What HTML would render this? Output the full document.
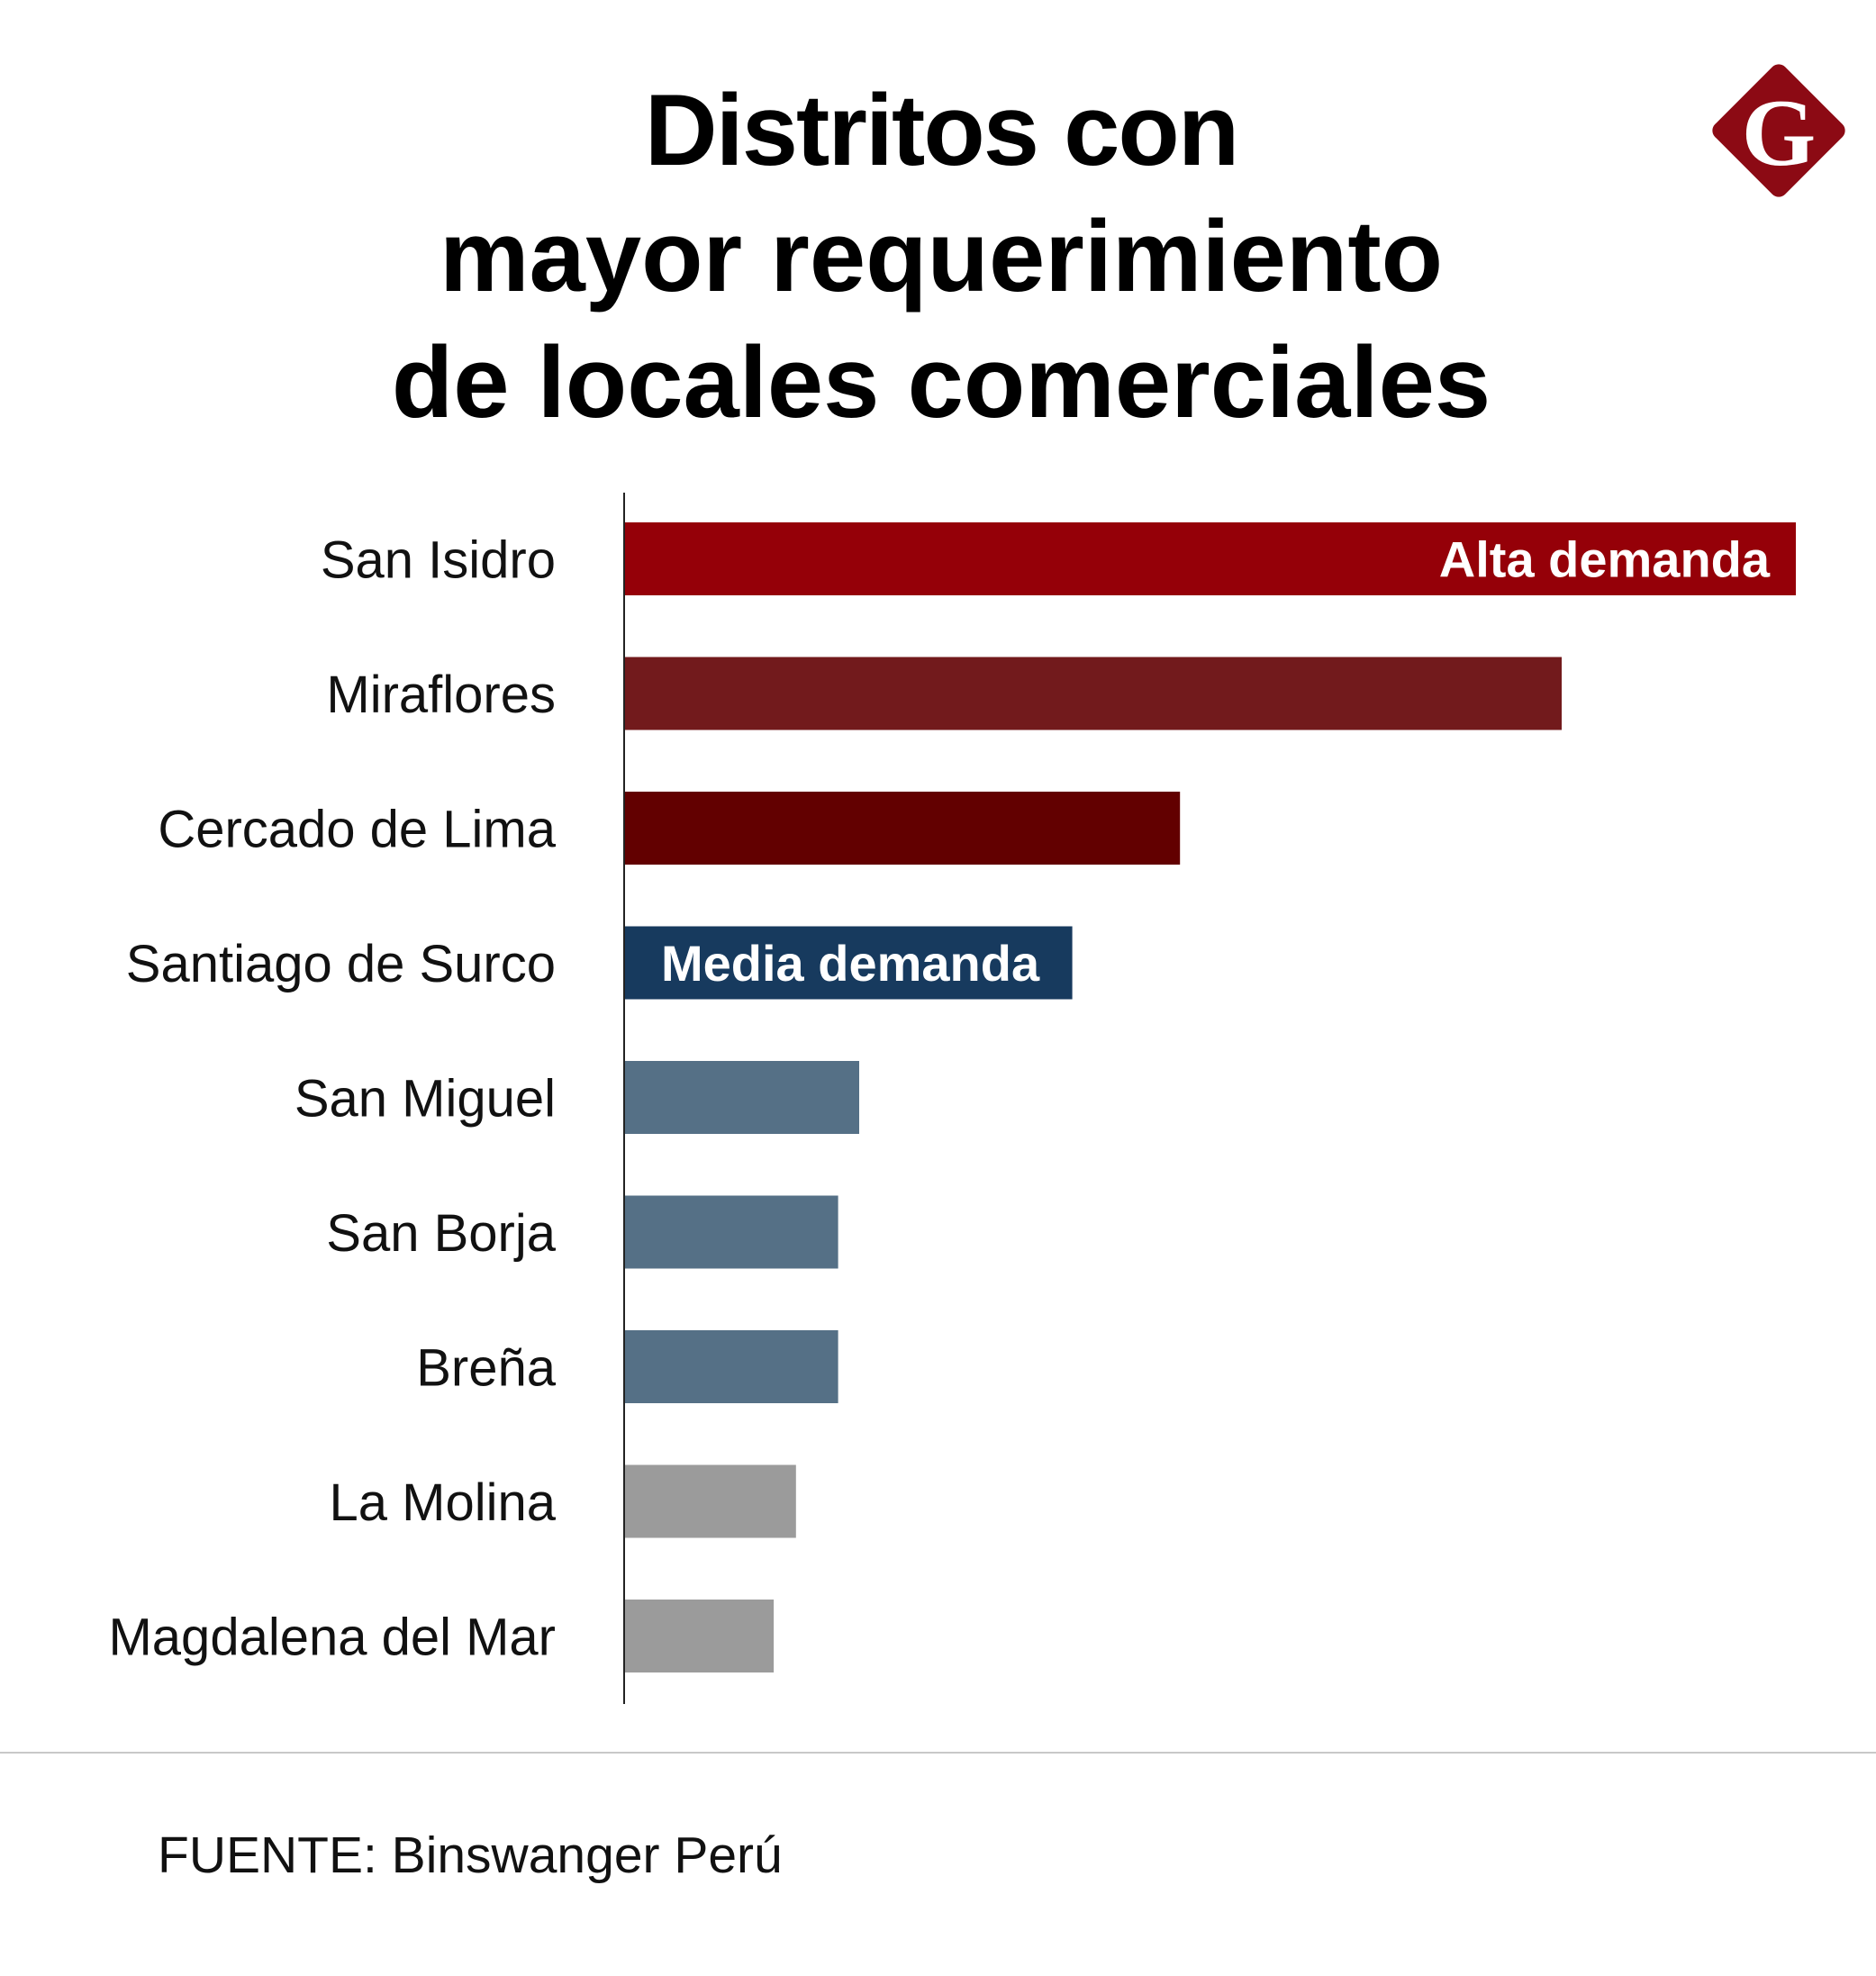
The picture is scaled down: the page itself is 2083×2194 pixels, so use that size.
<!DOCTYPE html>
<html><head><meta charset="utf-8"><style>
body{margin:0;width:2083px;height:2194px;background:#fff;overflow:hidden;font-family:"Liberation Sans",sans-serif;}
.t{position:absolute;left:0;width:2090px;text-align:center;font-weight:bold;font-size:112px;letter-spacing:-1px;color:#000;}
</style></head><body>
<div class="t" style="top:80px;letter-spacing:-2px">Distritos con</div>
<div class="t" style="top:220px;letter-spacing:0px">mayor requerimiento</div>
<div class="t" style="top:360px;letter-spacing:0px">de locales comerciales</div>
<svg style="position:absolute;left:0;top:0" width="2083" height="300">
<rect x="1920" y="90" width="110" height="110" rx="10" fill="#8c0a14" transform="rotate(45 1975 145)"/>
<text x="1975" y="183" text-anchor="middle" font-family="Liberation Serif,serif" font-weight="bold" font-size="106" fill="#fff">G</text>
</svg>
<svg id="chart" style="position:absolute;left:0;top:0" width="2083" height="2194"></svg>
<div style="position:absolute;left:0;top:1945px;width:2083px;height:2px;background:#c8c8c8"></div>
<div style="position:absolute;left:175px;top:2027px;font-size:57px;color:#111">FUENTE: Binswanger Perú</div>
<script>
const categories=["San Isidro","Miraflores","Cercado de Lima","Santiago de Surco","San Miguel","San Borja","Breña","La Molina","Magdalena del Mar"];
const values=[100,80,47.4,38.2,20,18.2,18.2,14.6,12.7];
const colors=["#950008","#721a1c","#620000","#173a5e","#557086","#557086","#557086","#9b9b9b","#9b9b9b"];
const barLabels=["Alta demanda","","","Media demanda","","","","",""];
const NS="http://www.w3.org/2000/svg",svg=document.getElementById('chart');
const x0=693,xScale=v=>v*13.0,y=i=>580+i*149.5,bh=81;
const ax=document.createElementNS(NS,'line');
ax.setAttribute('x1',x0);ax.setAttribute('x2',x0);ax.setAttribute('y1',547);ax.setAttribute('y2',1892);
ax.setAttribute('stroke','#222');ax.setAttribute('stroke-width','2');


svg.appendChild(ax);
categories.forEach((c,i)=>{
 const r=document.createElementNS(NS,'rect');
 r.setAttribute('x',x0+1);r.setAttribute('y',y(i));r.setAttribute('width',xScale(values[i]));r.setAttribute('height',bh);r.setAttribute('fill',colors[i]);
 
 
 svg.appendChild(r);
 const t=document.createElementNS(NS,'text');
 t.setAttribute('x',617);t.setAttribute('y',y(i)+bh/2+21);t.setAttribute('text-anchor','end');t.setAttribute('font-size','58');t.setAttribute('fill','#111');
 t.textContent=c;
 
 
 svg.appendChild(t);
 if(barLabels[i]){
  const b=document.createElementNS(NS,'text');
  const right=i===0;
  b.setAttribute('x',right?x0+xScale(values[i])-28:734);b.setAttribute('y',y(i)+bh/2+20);
  b.setAttribute('text-anchor',right?'end':'start');b.setAttribute('font-size','56');b.setAttribute('font-weight','bold');b.setAttribute('fill','#fff');
  b.textContent=barLabels[i];
  
  
  svg.appendChild(b);
 }
});
</script>
</body></html>
